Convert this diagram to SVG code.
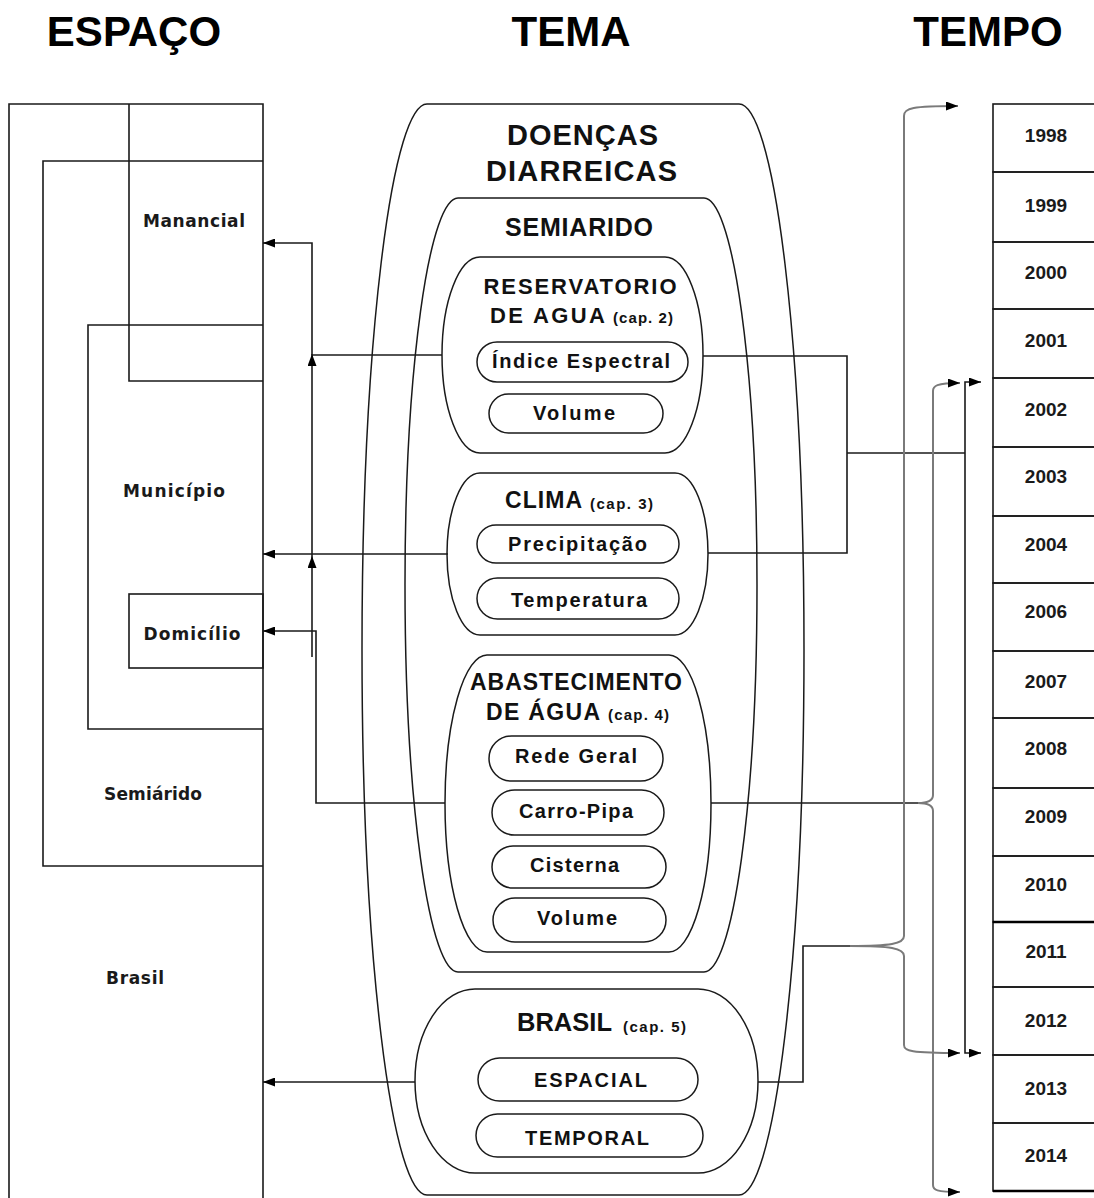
<svg xmlns="http://www.w3.org/2000/svg" width="1094" height="1198" viewBox="0 0 1094 1198">
<style>
.ln{fill:none;stroke:#1a1a1a;stroke-width:1.6}
.sh{fill:none;stroke:#1a1a1a;stroke-width:1.5}
.br{fill:none;stroke:#7a7a7a;stroke-width:2}
.h{font-family:"Liberation Sans",Arial,sans-serif;font-weight:bold;font-size:42px;fill:#000;text-anchor:middle}
.lab{font-family:"DejaVu Sans","Liberation Sans",sans-serif;font-weight:bold;font-size:17px;fill:#1a1a1a}
.t{font-family:"Liberation Sans",Arial,sans-serif;font-weight:bold;fill:#111}
.mid{text-anchor:middle}
.cap{font-family:"Liberation Sans",Arial,sans-serif;font-weight:bold;font-size:15px;fill:#111}
.yr{font-family:"Liberation Sans",Arial,sans-serif;font-weight:bold;font-size:19px;fill:#1a1a1a;text-anchor:middle}
</style>
<defs>
<marker id="arr" markerUnits="userSpaceOnUse" markerWidth="12" markerHeight="9" refX="12" refY="4.5" orient="auto">
<path d="M0,0 L12,4.5 L0,9 z" fill="#000"/>
</marker>
</defs>
<rect width="1094" height="1198" fill="#fff"/>

<g id="headings">
<text class="h" x="134" y="46">ESPAÇO</text>
<text class="h" x="571" y="46">TEMA</text>
<text class="h" x="988" y="46">TEMPO</text>
</g>

<g id="espaco">
<g id="n-brasil-area"><path class="ln" d="M9,1198 V104 H263 V1198"/><text class="lab" x="135" y="984" text-anchor="middle" textLength="58">Brasil</text></g>
<g id="n-semiarido-area"><path class="ln" d="M263,161 H43 V866 H263"/><text class="lab" x="153" y="800" text-anchor="middle" textLength="98">Semiárido</text></g>
<g id="n-municipio"><path class="ln" d="M263,325 H88 V729 H263"/><text class="lab" x="174" y="497" text-anchor="middle" textLength="102">Município</text></g>
<g id="n-manancial"><path class="ln" d="M129,104 V381 H263"/><text class="lab" x="194" y="227" text-anchor="middle" textLength="102">Manancial</text></g>
<g id="n-domicilio"><rect class="ln" x="129" y="594" width="134" height="74"/><text class="lab" x="192" y="640" text-anchor="middle" textLength="97">Domicílio</text></g>
</g>

<g id="tema">
<g id="n-doencas"><rect class="sh" x="362" y="104" width="442" height="1091" rx="65" ry="545.5"/>
<text class="t mid" x="582.5" y="145" font-size="29" textLength="151">DOENÇAS</text>
<text class="t mid" x="581.5" y="181" font-size="29" textLength="191">DIARREICAS</text></g>
<g id="n-semiarido"><rect class="sh" x="405" y="198" width="352" height="774" rx="53" ry="387"/>
<text class="t mid" x="579" y="236" font-size="25" textLength="148">SEMIARIDO</text></g>
<g id="n-reservatorio"><rect class="sh" x="442" y="257" width="261" height="196" rx="38" ry="98"/>
<text class="t mid" x="580" y="294" font-size="22" textLength="193">RESERVATORIO</text>
<text class="t" x="490" y="323" font-size="22" textLength="115">DE AGUA</text>
<text class="cap" x="613" y="323" textLength="60">(cap. 2)</text>
<g id="n-indice"><rect class="sh" x="477" y="342" width="211" height="40" rx="20"/><text class="t mid" x="581" y="368" font-size="20" textLength="178">Índice Espectral</text></g>
<g id="n-volume1"><rect class="sh" x="489" y="394" width="174" height="39" rx="19.5"/><text class="t mid" x="574" y="420" font-size="20" textLength="82">Volume</text></g>
</g>
<g id="n-clima"><rect class="sh" x="447" y="473" width="261" height="162" rx="33" ry="81"/>
<text class="t" x="505" y="508" font-size="23" textLength="77">CLIMA</text>
<text class="cap" x="590" y="509" textLength="63">(cap. 3)</text>
<g id="n-precip"><rect class="sh" x="477" y="525" width="202" height="38" rx="19"/><text class="t mid" x="577.5" y="551" font-size="20" textLength="139">Precipitação</text></g>
<g id="n-temp"><rect class="sh" x="477" y="578" width="202" height="41" rx="20.5"/><text class="t mid" x="579" y="607" font-size="20" textLength="136">Temperatura</text></g>
</g>
<g id="n-abastecimento"><rect class="sh" x="445" y="655" width="266" height="297" rx="42" ry="148.5"/>
<text class="t" x="470" y="690" font-size="23" textLength="212">ABASTECIMENTO</text>
<text class="t" x="486" y="720" font-size="23" textLength="114">DE ÁGUA</text>
<text class="cap" x="608" y="720" textLength="61">(cap. 4)</text>
<g id="n-rede"><rect class="sh" x="489" y="736" width="174" height="45" rx="22.5"/><text class="t mid" x="576" y="763" font-size="20" textLength="122">Rede Geral</text></g>
<g id="n-carro"><rect class="sh" x="492" y="790" width="172" height="45" rx="22.5"/><text class="t mid" x="576" y="818" font-size="20" textLength="114">Carro-Pipa</text></g>
<g id="n-cisterna"><rect class="sh" x="492" y="846" width="174" height="42" rx="21"/><text class="t mid" x="574.5" y="872" font-size="20" textLength="89">Cisterna</text></g>
<g id="n-volume2"><rect class="sh" x="493" y="898" width="173" height="44" rx="22"/><text class="t mid" x="577" y="925" font-size="20" textLength="80">Volume</text></g>
</g>
<g id="n-brasil"><rect class="sh" x="415" y="989" width="343" height="184" rx="60" ry="92"/>
<text class="t" x="517" y="1031" font-size="25.5" textLength="95">BRASIL</text>
<text class="cap" x="623" y="1032" textLength="63">(cap. 5)</text>
<g id="n-espacial"><rect class="sh" x="478" y="1058" width="220" height="43" rx="21.5"/><text class="t mid" x="590.5" y="1087" font-size="20" textLength="113">ESPACIAL</text></g>
<g id="n-temporal"><rect class="sh" x="476" y="1114" width="227" height="43" rx="21.5"/><text class="t mid" x="587" y="1145" font-size="20" textLength="124">TEMPORAL</text></g>
</g>
</g>

<g id="tempo">
<g class="ln">
<rect x="993" y="104" width="110" height="68"/>
<rect x="993" y="172" width="110" height="70"/>
<rect x="993" y="242" width="110" height="67"/>
<rect x="993" y="309" width="110" height="69"/>
<rect x="993" y="378" width="110" height="69"/>
<rect x="993" y="447" width="110" height="69"/>
<rect x="993" y="516" width="110" height="67"/>
<rect x="993" y="583" width="110" height="68"/>
<rect x="993" y="651" width="110" height="67"/>
<rect x="993" y="718" width="110" height="70"/>
<rect x="993" y="788" width="110" height="68"/>
<rect x="993" y="856" width="110" height="66"/>
<rect x="993" y="922" width="110" height="65"/>
<rect x="993" y="987" width="110" height="68"/>
<rect x="993" y="1055" width="110" height="68"/>
<rect x="993" y="1123" width="110" height="68"/>
</g>
<path d="M993,922 H1094 M993,1191 H1094" stroke="#000" stroke-width="2.6"/>
<g id="years">
<text class="yr" x="1046" y="142">1998</text>
<text class="yr" x="1046" y="212">1999</text>
<text class="yr" x="1046" y="279">2000</text>
<text class="yr" x="1046" y="347">2001</text>
<text class="yr" x="1046" y="416">2002</text>
<text class="yr" x="1046" y="483">2003</text>
<text class="yr" x="1046" y="551">2004</text>
<text class="yr" x="1046" y="618">2006</text>
<text class="yr" x="1046" y="688">2007</text>
<text class="yr" x="1046" y="755">2008</text>
<text class="yr" x="1046" y="823">2009</text>
<text class="yr" x="1046" y="891">2010</text>
<text class="yr" x="1046" y="958">2011</text>
<text class="yr" x="1046" y="1027">2012</text>
<text class="yr" x="1046" y="1095">2013</text>
<text class="yr" x="1046" y="1162">2014</text>
</g>
</g>

<g id="connectors">
<path class="ln" d="M442,355 H312"/>
<path class="ln" d="M312,657 V556" marker-end="url(#arr)"/>
<path class="ln" d="M312,556 V354" marker-end="url(#arr)"/>
<path class="ln" d="M312,355 V243 H263" marker-end="url(#arr)"/>
<path class="ln" d="M448,554 H263" marker-end="url(#arr)"/>
<path class="ln" d="M445,803 H316 V631 H263" marker-end="url(#arr)"/>
<path class="ln" d="M415,1082 H263" marker-end="url(#arr)"/>

<path class="ln" d="M703,356 H847 V553 H708"/>
<path class="ln" d="M847,453 H965"/>
<path class="ln" d="M965,453 V382 H981" marker-end="url(#arr)"/>
<path class="ln" d="M965,453 V1053 H981" marker-end="url(#arr)"/>

<path class="ln" d="M711,803 H918"/>
<path class="br" d="M918,803 C928,803 933,801 933,795 V391 C933,386 936,383 960,383" marker-end="url(#arr)"/>
<path class="br" d="M918,803 C928,803 933,805 933,811 V1185 C933,1190 936,1192 960,1192" marker-end="url(#arr)"/>

<path class="ln" d="M758,1082 H803 V946 H850"/>
<path class="br" d="M850,946 C890,946 904,944 904,936 V116 C904,108 912,106 958,106" marker-end="url(#arr)"/>
<path class="br" d="M850,946 C890,946 904,948 904,956 V1045 C904,1051 910,1053 960,1053" marker-end="url(#arr)"/>
</g>
</svg>
